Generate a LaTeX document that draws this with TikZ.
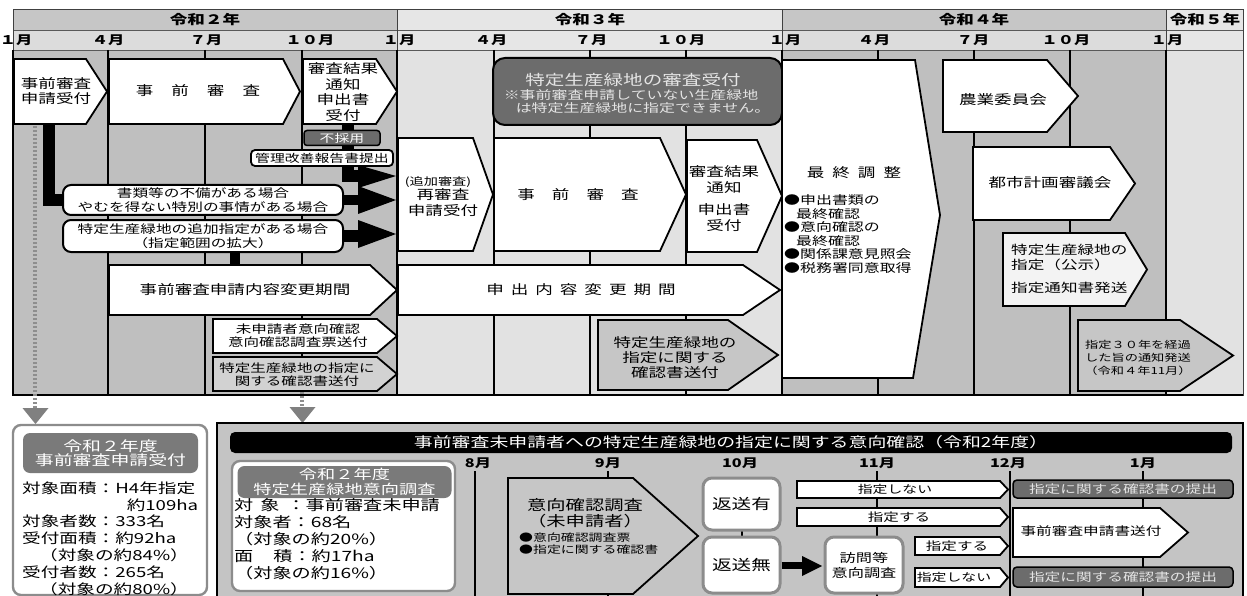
\documentclass[tikz,border=0pt]{standalone}
\usepackage{fontspec}
\setmainfont{Noto Sans CJK JP}[FakeStretch=1.35]
\usetikzlibrary{calc}
\definecolor{yrd}{HTML}{C6C6C6}
\definecolor{mrd}{HTML}{DCDCDC}
\definecolor{ylt}{HTML}{E6E6E6}
\definecolor{bgd}{HTML}{BFBFBF}
\definecolor{bgl}{HTML}{E2E2E2}
\definecolor{dk}{HTML}{6C6C6C}
\definecolor{txl}{HTML}{E4E4E4}
\definecolor{ga}{HTML}{D2D2D2}
\definecolor{gb}{HTML}{C6C6C6}
\definecolor{pale}{HTML}{F3F3F3}
\definecolor{gbd}{HTML}{8C8C8C}
\definecolor{hdg}{HTML}{7A7A7A}
\definecolor{dotc}{HTML}{8E8E8E}
\definecolor{bgR}{HTML}{C4C4C4}
\newcommand\fsz[2]{\fontsize{#1}{#2}\selectfont}
\newcommand\penta[6][white]{\filldraw[bx, fill=#1] (#2,#3) -- (#4,#3) -- (#5,{(#3+#6)/2}) -- (#4,#6) -- (#2,#6) -- cycle;}
\tikzset{
 bx/.style={draw=black, line width=1.8pt, line join=miter},
 t/.style={inner sep=0pt, align=center, font=\fsz{13}{15.5}},
 ts/.style={inner sep=0pt, align=center, font=\fsz{11.5}{13}},
 hd/.style={inner sep=0pt, font=\bfseries\fsz{13}{15}},
 mo/.style={inner sep=0pt, font=\bfseries\fsz{12}{14}},
 rbox/.style={draw=black, line width=2pt, fill=white, rounded corners=8pt, inner sep=0pt, align=center},
 dkbox/.style={draw=black, line width=1.5pt, fill=dk, text=txl, rounded corners=3pt, inner sep=0pt, align=center},
 gbox/.style={draw=gbd, line width=2.4pt, fill=white, rounded corners=8pt, inner sep=0pt, align=center},
 hdr/.style={fill=hdg, text=white, rounded corners=7pt, inner sep=0pt, align=center},
 dotl/.style={draw=dotc, line width=4.5pt, dash pattern=on 2pt off 2pt},
 shaft/.style={draw=black, line join=miter},
}
\begin{document}
\begin{tikzpicture}[x=1pt,y=-1pt]
\useasboundingbox (0,0) rectangle (1247,596);
\fill[white] (0,0) rectangle (1247,596);
% ---------- header and backgrounds
\fill[yrd] (13,10) rectangle (397,30);
\fill[mrd] (13,30) rectangle (397,50);
\fill[ylt] (397,10) rectangle (782,50);
\fill[yrd] (782,10) rectangle (1166,30);
\fill[mrd] (782,30) rectangle (1166,50);
\fill[ylt] (1166,10) rectangle (1243,50);
\fill[bgd] (13,50) rectangle (397,395);
\fill[bgl] (397,50) rectangle (782,395);
\fill[bgd] (782,50) rectangle (1166,395);
\fill[bgl] (1166,50) rectangle (1243,395);
\draw[line width=0.8pt, black!65] (13,30) -- (1243,30) (13,50) -- (1243,50);
\draw[line width=0.9pt, black!75] (397,10) -- (397,50) (782,10) -- (782,50) (1166,10) -- (1166,50);
\draw[line width=1pt, black!75] (13,10) rectangle (1243,395);
\foreach \x in {108,205,302,397,494,590,686,782,878,974,1070,1166}
  \draw[line width=1.8pt] (\x,50) -- (\x,395);
\draw[line width=1.6pt] (13,50) -- (13,395) -- (1243,395);
\node[hd] (y2) at (205,20) {令和２年};
\node[hd] (y3) at (590,20) {令和３年};
\node[hd] (y4) at (974,20) {令和４年};
\node[hd] (y5) at (1205,20) {令和５年};
\node[mo] (m1) at (16,40) {１月};
\node[mo] (m2) at (108,40) {４月};
\node[mo] (m3) at (206,40) {７月};
\node[mo] (m4) at (310,40) {１０月};
\node[mo] (m5) at (399,40) {１月};
\node[mo] (m6) at (491,40) {４月};
\node[mo] (m7) at (591,40) {７月};
\node[mo] (m8) at (681,40) {１０月};
\node[mo] (m9) at (785,40) {１月};
\node[mo] (m10) at (874,40) {４月};
\node[mo] (m11) at (973,40) {７月};
\node[mo] (m12) at (1066,40) {１０月};
\node[mo] (m13) at (1167,40) {１月};
% ---------- dotted leaders (behind)
\draw[dotl] (35,126) -- (35,409);
\fill[dotc!90!black] (22.5,408) -- (48.5,408) -- (35.5,424) -- cycle;
\draw[dotl] (302,392) -- (302,408);
\fill[dotc!90!black] (289.5,407) -- (315.5,407) -- (302.5,423) -- cycle;
% ---------- Reiwa 2 row 1
\penta{14}{59}{86}{107}{124}
\node[t] (a1) at (56,91) {事前審査\\申請受付};
\penta{109}{59}{283}{300}{124}
\node[t] (a2) at (198,91) {事\hspace{18pt}前\hspace{18pt}審\hspace{18pt}査};
\penta{303}{59}{376}{397}{124}
\node[t] (a3) at (343,92) {審査結果\\通知\\申出書\\受付};
% ---------- connectors (behind the small boxes)
\coordinate (k0) at (348,124);
\coordinate (kA) at (361,176);
\draw[shaft, line width=12pt] (k0) |- (kA);
\fill (358,165) -- (396,176) -- (358,188) -- cycle;
\node[rbox, minimum width=280pt, minimum height=30pt, font=\fsz{11.6}{13.5}] (shorui) at (203,200) {書類等の不備がある場合\\やむを得ない特別の事情がある場合};
\node[rbox, minimum width=280pt, minimum height=32pt, font=\fsz{11.6}{13.5}] (tsuika) at (203,236) {特定生産緑地の追加指定がある場合\\（指定範囲の拡大）};
\coordinate (j0) at (49,124);
\draw[shaft, line width=12pt] (j0) |- (shorui.west);
\draw[shaft, line width=10pt] (shorui.east) -- ++(18,0);
\fill (358,186) -- (396,200) -- (358,214) -- cycle;
\draw[shaft, line width=12pt] (tsuika.east) -- ++(18,0);
\fill (358,220) -- (396,234) -- (358,248) -- cycle;
\node[dkbox, minimum width=76pt, minimum height=15pt, font=\fsz{11}{13}, text=white] (fusai) at (342,138) {不採用};
\node[rbox, rounded corners=4pt, line width=1.8pt, minimum width=142pt, minimum height=16pt, font=\fsz{11}{13}] (kanri) at (322,158) {管理改善報告書提出};
% ---------- Reiwa 2 lower rows
\coordinate (h0) at (235,265);
\draw[shaft, line width=10pt] (tsuika.south -| h0) -- (h0);
\penta{109}{265}{370}{397}{315}
\node[t] (a4) at (245,290) {事前審査申請内容変更期間};
\penta{213}{319}{377}{397}{353}
\node[ts] (a5) at (298,336) {未申請者意向確認\\意向確認調査票送付};
\penta[ga]{213}{357}{377}{397}{391}
\node[ts] (a6) at (297,375) {特定生産緑地の指定に\\関する確認書送付};
% ---------- Reiwa 3
\node[draw=black, line width=2pt, fill=dk, rounded corners=12pt, minimum width=289pt, minimum height=67pt, inner sep=0pt] (b0) at (637.5,91.5) {};
\node[inner sep=0pt, text=txl, font=\fsz{14.5}{16}] (b0a) at (633,80) {特定生産緑地の審査受付};
\node[inner sep=0pt, text=txl, font=\fsz{11.8}{13}] (b0b) at (631,95) {※事前審査申請していない生産緑地};
\node[inner sep=0pt, text=txl, font=\fsz{11.8}{13}] (b0c) at (643,108) {は特定生産緑地に指定できません。};
\penta{398}{138}{473}{493}{251}
\node[inner sep=0pt, font=\fsz{10.5}{12}] (b1a) at (438,182) {(追加審査)};
\node[t] (b1) at (443,202.5) {再審査\\申請受付};
\penta{494}{138}{660}{686}{251}
\node[t] (b2) at (578,195) {事\hspace{17pt}前\hspace{17pt}審\hspace{17pt}査};
\penta{687}{140}{757}{782}{252}
\node[t] (b3) at (724,198.5) {審査結果\\通知\\[7pt]申出書\\受付};
\penta{398}{265}{743}{780}{315}
\node[t] (b4) at (581,290) {申\hspace{7pt}出\hspace{7pt}内\hspace{7pt}容\hspace{7pt}変\hspace{7pt}更\hspace{7pt}期\hspace{7pt}間};
\penta[gb]{598}{320}{728}{778}{390}
\node[t, font=\fsz{13}{15}] (b5) at (675,358) {特定生産緑地の\\指定に関する\\確認書送付};
% ---------- Reiwa 4
\filldraw[bx, fill=white] (782,60) -- (915,60) -- (940,215) -- (913,378) -- (782,378) -- cycle;
\node[t] (c1) at (854,173) {最\hspace{8pt}終\hspace{8pt}調\hspace{8pt}整};
\node[inner sep=0pt, align=left, anchor=west, font=\fsz{11.8}{13.6}] (c2) at (784,234) {●申出書類の\\\hspace*{12pt}最終確認\\●意向確認の\\\hspace*{12pt}最終確認\\●関係課意見照会\\●税務署同意取得};
\penta{943}{60}{1047}{1078}{132}
\node[t] (c3) at (1003,100) {農業委員会};
\penta{973}{147}{1110}{1135}{220}
\node[t] (c4) at (1050,183) {都市計画審議会};
\penta[pale]{1003}{233}{1125}{1147}{306}
\node[inner sep=0pt, align=left, anchor=west, font=\fsz{12.3}{15}] (c5) at (1011,269) {特定生産緑地の\\指定（公示）\\[8pt]指定通知書発送};
\penta[gb]{1078}{320}{1180}{1233}{391}
\node[inner sep=0pt, align=center, font=\fsz{9.8}{13}] (c6) at (1138,358) {指定３０年を経過\\した旨の通知発送\\（令和４年11月）};
% ---------- bottom left box
\node[gbox, minimum width=194pt, minimum height=170pt] (L) at (110,510) {};
\node[hdr, minimum width=175pt, minimum height=40pt, font=\fsz{14}{14.5}] (Lh) at (110.5,453) {令和２年度\\事前審査申請受付};
\node[inner sep=0pt, anchor=west, align=left, text width=176pt, font=\fsz{13.8}{16.8}] (Lb) at (22,538.5) {対象面積：H4年指定\\\hfill 約109ha\\対象者数：333名\\受付面積：約92ha\\\hspace*{17pt}（対象の約84\%）\\受付者数：265名\\\hspace*{17pt}（対象の約80\%）};
% ---------- bottom right panel
\node[draw=black, line width=2.6pt, fill=bgR, minimum width=1026pt, minimum height=180pt, inner sep=0pt] (R) at (730,513) {};
\node[fill=black, text=white, rounded corners=5pt, minimum width=1002pt, minimum height=21pt, inner sep=0pt, font=\fsz{14}{15}] (Rt) at (731,442.5) {事前審査未申請者への特定生産緑地の指定に関する意向確認（令和2年度）};
\foreach \x in {475,608,877,1010,1143}
  \draw[line width=1.6pt] (\x,471) -- (\x,598);
\draw[line width=1.6pt] (742,528) -- (742,540);
\node[mo] (n8) at (478,463) {8月};
\node[mo] (n9) at (608,463) {9月};
\node[mo] (n10) at (740,463) {10月};
\node[mo] (n11) at (877,463) {11月};
\node[mo] (n12) at (1008,463) {12月};
\node[mo] (n1) at (1143,463) {1月};
\node[gbox, minimum width=223pt, minimum height=130pt] (I) at (343.5,526) {};
\node[hdr, minimum width=214pt, minimum height=32pt, font=\fsz{13.5}{15}] (Ih) at (344.5,482) {令和２年度\\特定生産緑地意向調査};
\node[inner sep=0pt, anchor=west, align=left, font=\fsz{14.2}{17}] (Ib) at (234,539) {対\hspace{7pt}象\hspace{7pt}：事前審査未申請\\対象者：68名\\（対象の約20\%）\\面\hspace{20pt}積：約17ha\\（対象の約16\%）};
\penta[gb]{508}{478}{633}{698}{594}
\node[inner sep=0pt, align=center, font=\fsz{14.3}{16}] (d1) at (585,513) {意向確認調査\\（未申請者）};
\node[inner sep=0pt, align=left, anchor=west, font=\fsz{10.3}{12.5}] (d2) at (519,543.5) {●意向確認調査票\\●指定に関する確認書};
\node[gbox, rounded corners=9pt, line width=3pt, minimum width=77pt, minimum height=52pt, font=\fsz{14.5}{16}] (hy) at (741.5,504) {返送有};
\node[gbox, rounded corners=9pt, line width=3pt, minimum width=77pt, minimum height=56pt, font=\fsz{14.5}{16}] (hn) at (741.5,565) {返送無};
\node[gbox, rounded corners=9pt, line width=3pt, minimum width=78pt, minimum height=56pt, font=\fsz{12}{15}] (ho) at (864,565) {訪問等\\意向調査};
\draw[shaft, line width=7pt] (hn.east) -- ++(20,0);
\fill (802,556) -- (822,566) -- (802,576) -- cycle;
\penta{797}{481}{1000}{1008}{498}
\node[inner sep=0pt, font=\fsz{11}{12}] (e1) at (895,489.5) {指定しない};
\penta{797}{508}{1000}{1008}{526}
\node[inner sep=0pt, font=\fsz{11.5}{12}] (e2) at (899,517) {指定する};
\penta{915}{537}{1000}{1008}{555}
\node[inner sep=0pt, font=\fsz{11.5}{12}] (e3) at (957,546) {指定する};
\penta{915}{568}{1000}{1008}{587}
\node[inner sep=0pt, font=\fsz{11}{12}] (e4) at (954,577.5) {指定しない};
\node[dkbox, rounded corners=4pt, minimum width=220pt, minimum height=18pt, font=\fsz{11.6}{13}] (f1) at (1123,489) {指定に関する確認書の提出};
\penta{1013}{508}{1160}{1188}{557}
\node[inner sep=0pt, font=\fsz{11.6}{13}] (f2) at (1091,531) {事前審査申請書送付};
\node[dkbox, rounded corners=4pt, minimum width=220pt, minimum height=20pt, font=\fsz{11.6}{13}] (f3) at (1123,577) {指定に関する確認書の提出};
\end{tikzpicture}
\end{document}
